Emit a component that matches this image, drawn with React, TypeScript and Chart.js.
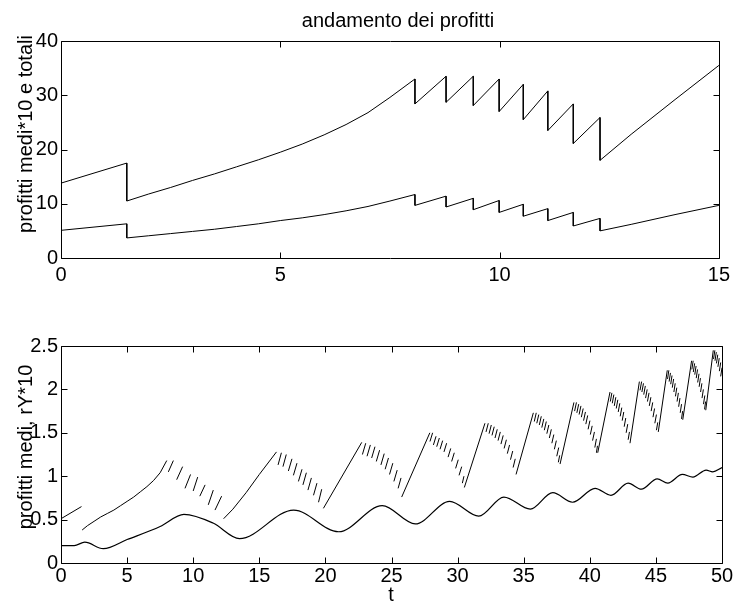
import React, { useEffect, useRef } from "react";
import { Chart, registerables } from "chart.js";

Chart.register(...registerables);

// ---------- top panel data ----------
const topT = [0, 1.5, 1.5, 2, 2.5, 3, 3.5, 4, 4.5, 5, 5.5, 6, 6.5, 7, 7.5, 8.07, 8.07, 8.78, 8.78, 9.4, 9.4, 9.99, 9.99, 10.54, 10.54, 11.1, 11.1, 11.68, 11.68, 12.29, 12.29, 13, 14, 15];
const profittiTotali = [13.8, 17.5, 10.5, 11.8, 13.0, 14.3, 15.5, 16.8, 18.1, 19.5, 21.0, 22.7, 24.6, 26.8, 29.6, 33.0, 28.4, 33.5, 28.7, 33.5, 28.1, 33.0, 27.0, 32.0, 25.5, 30.8, 23.5, 28.4, 21.1, 25.9, 18.0, 22.8, 29.2, 35.5];
const profittiMedi10 = [5.1, 6.3, 3.7, 4.1, 4.5, 4.9, 5.3, 5.8, 6.3, 6.9, 7.4, 8.0, 8.7, 9.5, 10.5, 11.7, 9.7, 11.4, 9.4, 11.0, 8.9, 10.6, 8.4, 9.9, 7.7, 9.1, 6.9, 8.4, 5.9, 7.3, 5.0, 6.2, 8.0, 9.7];
const topXTicks = [0, 5, 10, 15];
const topYTicks = [0, 10, 20, 30, 40];

// ---------- bottom panel data ----------
const rYT = [0, 1, 1.8, 3.2, 5, 7.5, 9.3, 11.5, 13.5, 17.6, 21, 24.3, 26.8, 29.4, 31.6, 33.5, 35.5, 37.2, 38.7, 40.4, 41.6, 42.9, 43.9, 45.1, 45.9, 47, 47.8, 48.8, 49.3, 50];
const rY10 = [0.2, 0.2, 0.24, 0.165, 0.27, 0.42, 0.56, 0.46, 0.28, 0.61, 0.36, 0.66, 0.45, 0.71, 0.54, 0.76, 0.62, 0.81, 0.7, 0.86, 0.78, 0.92, 0.85, 0.97, 0.92, 1.02, 0.99, 1.07, 1.05, 1.1];

// rising parts of "profitti medi" (t, value)
const mediRise: number[][][] = [
  [[0, 0.51], [1.55, 0.65]],
  [[1.6, 0.38], [2, 0.43], [2.5, 0.48], [3, 0.53], [3.5, 0.57], [4, 0.61], [4.5, 0.66], [5, 0.71], [5.5, 0.76], [6, 0.82], [6.5, 0.88], [7, 0.95], [7.5, 1.04], [8.0, 1.18]],
  [[12.3, 0.51], [13, 0.62], [14, 0.81], [15, 1.02], [16.3, 1.28]],
  [[19.85, 0.63], [22.75, 1.39]],
  [[25.77, 0.76], [27.9, 1.5]],
  [[30.51, 0.87], [32.07, 1.61]],
  [[34.42, 1.02], [35.73, 1.73]],
  [[37.75, 1.14], [38.8, 1.85]],
  [[40.6, 1.27], [41.53, 1.97]],
  [[43.04, 1.38], [43.75, 2.09]],
  [[45.18, 1.51], [45.86, 2.22]],
  [[47.03, 1.65], [47.7, 2.33]],
  [[48.77, 1.76], [49.34, 2.45]],
];

// short strokes of "profitti medi" in the falling parts: [t0, v0, t1, v1]
const mediStrokes: number[][] = [
  [8.12, 1.05, 8.5, 1.18], [8.75, 0.96, 9.2, 1.11], [9.38, 0.86, 9.8, 1.02], [10.0, 0.83, 10.34, 0.99],
  [10.5, 0.77, 10.9, 0.9], [11.14, 0.67, 11.52, 0.84], [11.65, 0.61, 12.15, 0.77],

  [16.42, 1.13, 16.67, 1.27], [16.79, 1.11, 17.04, 1.25], [17.2, 1.06, 17.47, 1.2], [17.58, 1.01, 17.85, 1.15],
  [17.96, 0.94, 18.23, 1.08], [18.3, 0.9, 18.56, 1.04], [18.68, 0.84, 18.94, 0.98], [19.1, 0.78, 19.36, 0.92],
  [19.48, 0.7, 19.72, 0.85],

  [22.8, 1.25, 23.05, 1.38], [23.15, 1.23, 23.4, 1.36], [23.5, 1.21, 23.75, 1.34], [23.85, 1.17, 24.1, 1.3],
  [24.2, 1.13, 24.45, 1.26], [24.52, 1.08, 24.77, 1.21], [24.85, 1.02, 25.1, 1.15], [25.18, 0.94, 25.43, 1.07],
  [25.5, 0.86, 25.72, 0.98],

  [27.91, 1.4, 28.11, 1.5], [28.17, 1.36, 28.37, 1.46], [28.42, 1.34, 28.62, 1.44], [28.67, 1.31, 28.87, 1.41],
  [28.97, 1.28, 29.17, 1.38], [29.28, 1.22, 29.48, 1.32], [29.55, 1.17, 29.75, 1.27], [29.85, 1.09, 30.05, 1.19],
  [30.11, 1.01, 30.31, 1.11], [30.36, 0.92, 30.48, 1.0],

  [32.15, 1.51, 32.32, 1.61], [32.38, 1.49, 32.55, 1.59], [32.6, 1.47, 32.77, 1.57], [32.83, 1.44, 33.0, 1.54],
  [33.06, 1.41, 33.23, 1.51], [33.28, 1.37, 33.45, 1.47], [33.52, 1.32, 33.69, 1.42], [33.76, 1.26, 33.93, 1.36],
  [34.0, 1.19, 34.17, 1.29], [34.2, 1.1, 34.36, 1.2],

  [35.8, 1.63, 35.95, 1.73], [35.99, 1.61, 36.14, 1.71], [36.18, 1.59, 36.33, 1.69], [36.37, 1.56, 36.52, 1.66],
  [36.56, 1.53, 36.71, 1.63], [36.75, 1.49, 36.9, 1.59], [36.94, 1.44, 37.09, 1.54], [37.13, 1.38, 37.28, 1.48],
  [37.32, 1.31, 37.47, 1.41], [37.5, 1.23, 37.65, 1.33], [37.62, 1.16, 37.72, 1.24],

  [38.85, 1.75, 38.99, 1.85], [39.02, 1.73, 39.16, 1.83], [39.19, 1.71, 39.33, 1.81], [39.36, 1.68, 39.5, 1.78],
  [39.53, 1.64, 39.67, 1.74], [39.7, 1.6, 39.84, 1.7], [39.87, 1.54, 40.01, 1.64], [40.04, 1.48, 40.18, 1.58],
  [40.21, 1.41, 40.35, 1.51], [40.38, 1.33, 40.5, 1.43], [40.5, 1.27, 40.58, 1.35],

  [41.55, 1.86, 41.67, 1.96], [41.7, 1.84, 41.82, 1.94], [41.85, 1.81, 41.97, 1.91], [42.0, 1.78, 42.12, 1.88],
  [42.15, 1.74, 42.27, 1.84], [42.3, 1.69, 42.42, 1.79], [42.45, 1.64, 42.57, 1.74], [42.6, 1.57, 42.72, 1.67],
  [42.75, 1.5, 42.87, 1.6], [42.9, 1.42, 43.0, 1.51],

  [43.8, 1.99, 43.92, 2.09], [43.94, 1.97, 44.06, 2.07], [44.08, 1.94, 44.2, 2.04], [44.22, 1.9, 44.34, 2.0],
  [44.36, 1.86, 44.48, 1.96], [44.5, 1.81, 44.62, 1.91], [44.64, 1.75, 44.76, 1.85], [44.78, 1.68, 44.9, 1.78],
  [44.92, 1.61, 45.04, 1.71], [45.04, 1.53, 45.14, 1.62],

  [45.88, 2.12, 45.98, 2.22], [46.0, 2.09, 46.1, 2.19], [46.12, 2.06, 46.22, 2.16], [46.24, 2.02, 46.34, 2.12],
  [46.36, 1.97, 46.46, 2.07], [46.48, 1.92, 46.58, 2.02], [46.6, 1.86, 46.7, 1.96], [46.72, 1.8, 46.82, 1.9],
  [46.84, 1.73, 46.94, 1.83], [46.94, 1.66, 47.02, 1.75],

  [47.72, 2.23, 47.82, 2.33], [47.83, 2.2, 47.93, 2.3], [47.94, 2.17, 48.04, 2.27], [48.05, 2.13, 48.15, 2.23],
  [48.16, 2.08, 48.26, 2.18], [48.27, 2.03, 48.37, 2.13], [48.38, 1.97, 48.48, 2.07], [48.49, 1.9, 48.59, 2.0],
  [48.6, 1.83, 48.7, 1.93], [48.68, 1.77, 48.76, 1.86],

  [49.36, 2.35, 49.46, 2.45], [49.47, 2.33, 49.57, 2.43], [49.58, 2.3, 49.68, 2.4], [49.69, 2.26, 49.79, 2.36],
  [49.8, 2.21, 49.9, 2.31], [49.9, 2.15, 50, 2.25],
];

const botXTicks = [0, 5, 10, 15, 20, 25, 30, 35, 40, 45, 50];
const botYTicks = [0, 0.5, 1, 1.5, 2, 2.5];

const FONT_FAMILY = '"Liberation Sans", Arial, Helvetica, sans-serif';
const FONT_SIZE = 20;

type Txt = { text: string; x: number; y: number; rot?: boolean; baseline?: CanvasTextBaseline };

function makeBoxPlugin(xTicks: number[], yTicks: number[], texts: Txt[]) {
  return {
    id: "matlabBox",
    afterDraw(chart: any) {
      const { ctx, chartArea } = chart;
      const { left, right, top, bottom } = chartArea;
      const xs = chart.scales.x;
      const ys = chart.scales.y;
      const L = 6;
      ctx.save();
      ctx.strokeStyle = "#000";
      ctx.lineWidth = 1;
      ctx.beginPath();
      const l = Math.round(left) + 0.5;
      const r = Math.round(right) + 0.5;
      const t = Math.round(top) + 0.5;
      const b = Math.round(bottom) + 0.5;
      ctx.moveTo(l, t);
      ctx.lineTo(r, t);
      ctx.lineTo(r, b);
      ctx.lineTo(l, b);
      ctx.closePath();
      xTicks.forEach((v) => {
        const px = Math.round(xs.getPixelForValue(v)) + 0.5;
        ctx.moveTo(px, b);
        ctx.lineTo(px, b - L);
        ctx.moveTo(px, t);
        ctx.lineTo(px, t + L);
      });
      yTicks.forEach((v) => {
        const py = Math.round(ys.getPixelForValue(v)) + 0.5;
        ctx.moveTo(l, py);
        ctx.lineTo(l + L, py);
        ctx.moveTo(r, py);
        ctx.lineTo(r - L, py);
      });
      ctx.stroke();

      ctx.fillStyle = "#000";
      ctx.font = `${FONT_SIZE}px ${FONT_FAMILY}`;
      ctx.textAlign = "center";
      texts.forEach((tx) => {
        ctx.save();
        ctx.translate(tx.x, tx.y);
        if (tx.rot) ctx.rotate(-Math.PI / 2);
        ctx.textBaseline = tx.baseline || "middle";
        ctx.fillText(tx.text, 0, 0);
        ctx.restore();
      });
      ctx.restore();
    },
  };
}

function scaleOpts(min: number, max: number, ticks: number[], isX: boolean, pad: number, size: number) {
  return {
    type: "linear",
    min,
    max,
    grid: { display: false, drawTicks: false },
    border: { display: false },
    ticks: {
      padding: pad,
      color: "#000",
      font: { family: FONT_FAMILY, size: FONT_SIZE },
      maxRotation: 0,
      autoSkip: false,
      callback: (v: any) => String(v),
    },
    afterBuildTicks: (s: any) => {
      s.ticks = ticks.map((v) => ({ value: v }));
    },
    afterFit: (s: any) => {
      if (isX) s.height = size;
      else s.width = size;
    },
  };
}

export default function App() {
  const topRef = useRef<HTMLCanvasElement | null>(null);
  const botRef = useRef<HTMLCanvasElement | null>(null);

  useEffect(() => {
    const topTot = topT.map((x, i) => ({ x, y: profittiTotali[i] }));
    const topMed = topT.map((x, i) => ({ x, y: profittiMedi10[i] }));

    const lineBase = {
      borderColor: "#000",
      borderWidth: 1,
      pointRadius: 0,
      fill: false,
      tension: 0,
    };

    const topChart = new Chart(topRef.current as HTMLCanvasElement, {
      type: "line",
      data: {
        datasets: [
          { ...lineBase, data: topTot },
          { ...lineBase, data: topMed },
        ],
      } as any,
      options: {
        responsive: false,
        animation: false,
        layout: { padding: { left: 0, right: 13, top: 41, bottom: 0 } },
        plugins: { legend: { display: false }, tooltip: { enabled: false }, title: { display: false } },
        scales: {
          x: scaleOpts(0, 15, topXTicks, true, 5, 42),
          y: scaleOpts(0, 40, topYTicks, false, 3, 61),
        } as any,
      },
      plugins: [
        makeBoxPlugin(topXTicks, topYTicks, [
          { text: "andamento dei profitti", x: 398, y: 26.5, baseline: "alphabetic" },
          { text: "profitti medi*10 e totali", x: 26, y: 134, rot: true },
        ]),
      ],
    } as any);

    const pieces: number[][][] = [
      ...mediRise,
      ...mediStrokes.map((s) => [
        [s[0], s[1]],
        [s[2], s[3]],
      ]),
    ].sort((a, b) => a[0][0] - b[0][0]);
    const jag: any[] = [];
    pieces.forEach((p) => {
      p.forEach(([x, y]) => jag.push({ x, y }));
      jag.push({ x: p[p.length - 1][0], y: null });
    });
    const smooth = rYT.map((x, i) => ({ x, y: rY10[i] }));

    const botChart = new Chart(botRef.current as HTMLCanvasElement, {
      type: "line",
      data: {
        datasets: [
          { ...lineBase, data: jag, spanGaps: false },
          { ...lineBase, data: smooth, cubicInterpolationMode: "monotone", borderWidth: 1.2 },
        ],
      } as any,
      options: {
        responsive: false,
        animation: false,
        layout: { padding: { left: 0, right: 13, top: 46, bottom: 0 } },
        plugins: { legend: { display: false }, tooltip: { enabled: false }, title: { display: false } },
        scales: {
          x: scaleOpts(0, 50, botXTicks, true, 1, 40),
          y: scaleOpts(0, 2.5, botYTicks, false, 3, 61),
        } as any,
      },
      plugins: [
        makeBoxPlugin(botXTicks, botYTicks, [
          { text: "profitti medi, rY*10", x: 26, y: 147, rot: true },
          { text: "t", x: 391, y: 301, baseline: "alphabetic" },
        ]),
      ],
    } as any);

    return () => {
      topChart.destroy();
      botChart.destroy();
    };
  }, []);

  return (
    <div style={{ position: "absolute", left: 0, top: 0, width: 735, height: 603, background: "#fff" }}>
      <canvas ref={topRef} width={735} height={300} style={{ position: "absolute", left: 0, top: 0, width: 735, height: 300 }} />
      <canvas ref={botRef} width={735} height={303} style={{ position: "absolute", left: 0, top: 300, width: 735, height: 303 }} />
    </div>
  );
}
